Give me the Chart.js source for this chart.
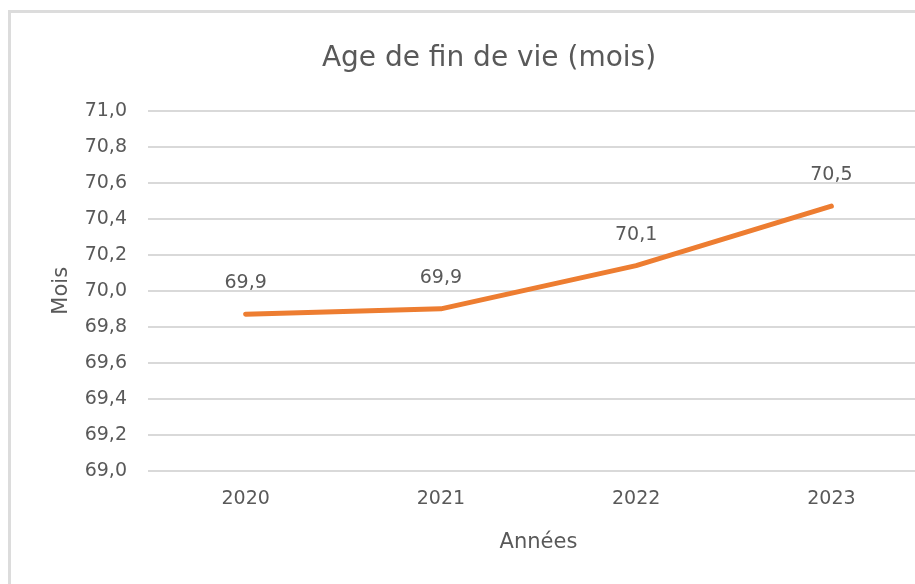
<!DOCTYPE html>
<html>
<head>
<meta charset="utf-8">
<script src="https://cdn.jsdelivr.net/npm/chart.js@4/dist/chart.umd.min.js"></script>
<style>
  html, body { margin: 0; padding: 0; background: #fff; overflow: hidden; }
  body { width: 915px; height: 584px; position: relative; }
  #frame {
    position: absolute; left: 8px; top: 10px; width: 1000px; height: 1000px;
    border: 3px solid #dcdcdc; box-sizing: border-box;
  }
  #wrap { position: absolute; left: 0; top: 0; width: 929px; height: 584px; }
</style>
</head>
<body>
<div id="frame"></div>
<div id="wrap"><canvas id="ageChart"></canvas></div>
<script>
// data
const years = ["2020", "2021", "2022", "2023"];
const ageValues = [69.87, 69.90, 70.14, 70.47];
const yMin = 69.0;
const yMax = 71.0;
const yStep = 0.2;

const fmt = (v) => v.toFixed(1).replace(".", ",");
const FONT = "'DejaVu Sans', sans-serif";
const GREY = "#595959";

// draws the value above each point, like Excel data labels
const valueLabels = {
  id: "valueLabels",
  afterDatasetsDraw(chart) {
    const c = chart.ctx;
    const meta = chart.getDatasetMeta(0);
    c.save();
    c.font = "19px " + FONT;
    c.fillStyle = GREY;
    c.textAlign = "center";
    c.textBaseline = "middle";
    meta.data.forEach((pt, i) => {
      c.fillText(fmt(ageValues[i]), pt.x, pt.y - 31);
    });
    c.restore();
  },
};

new Chart(document.getElementById("ageChart"), {
  type: "line",
  data: {
    labels: years,
    datasets: [
      {
        data: ageValues,
        borderColor: "#ED7D31",
        borderWidth: 5,
        pointRadius: 0,
        tension: 0,
        borderCapStyle: "round",
        borderJoinStyle: "round",
      },
    ],
  },
  options: {
    responsive: true,
    maintainAspectRatio: false,
    animation: false,
    layout: { padding: { left: 49, top: 42, right: 0, bottom: 29 } },
    plugins: {
      legend: { display: false },
      tooltip: { enabled: false },
      title: {
        display: true,
        text: "Age de fin de vie (mois)",
        color: GREY,
        font: { family: FONT, size: 28, weight: "normal" },
        padding: { top: 0, bottom: 35 },
      },
    },
    scales: {
      x: {
        offset: true,
        afterFit: (scale) => { scale.height = 84; },
        grid: { display: false, drawTicks: false },
        border: { display: false },
        ticks: { color: GREY, font: { family: FONT, size: 19 }, padding: 17 },
        title: {
          display: true,
          text: "Années",
          color: GREY,
          font: { family: FONT, size: 21 },
          padding: { top: 18, bottom: 0 },
        },
      },
      y: {
        min: yMin,
        max: yMax,
        afterFit: (scale) => { scale.width = 99; },
        ticks: {
          stepSize: yStep,
          color: GREY,
          font: { family: FONT, size: 19 },
          padding: 21,
          callback: (v) => fmt(v),
        },
        grid: { color: "#d9d9d9", lineWidth: 2, drawTicks: false },
        border: { display: false },
        title: {
          display: true,
          text: "Mois",
          color: GREY,
          font: { family: FONT, size: 21 },
          padding: { top: 0, bottom: 4 },
        },
      },
    },
  },
  plugins: [valueLabels],
});
</script>
</body>
</html>
